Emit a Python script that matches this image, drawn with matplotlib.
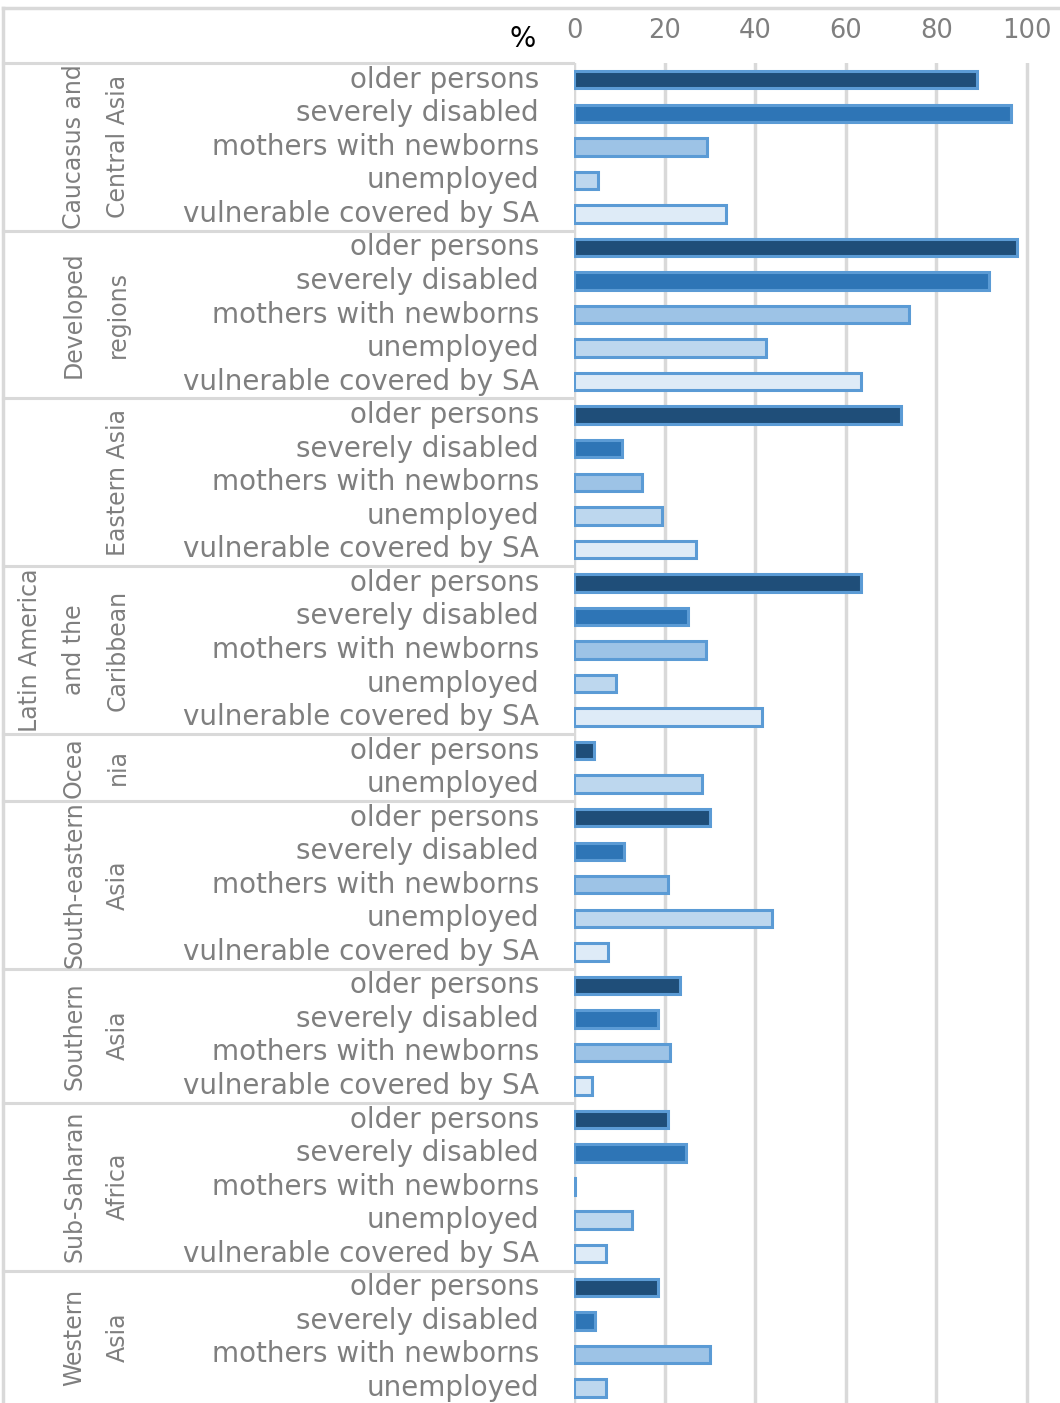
import matplotlib
matplotlib.use("Agg")
import matplotlib.pyplot as plt
import matplotlib.transforms as mtransforms

# region labels (rotated, in the left table column)
regions = ["Caucasus and\nCentral Asia", "Developed\nregions", "Eastern Asia",
           "Latin America\nand the\nCaribbean", "Ocea\nnia", "South-eastern\nAsia",
           "Southern\nAsia", "Sub-Saharan\nAfrica", "Western\nAsia"]

ALL5 = ["older persons", "severely disabled", "mothers with newborns",
        "unemployed", "vulnerable covered by SA"]
categories = [
    ALL5,
    ALL5,
    ALL5,
    ALL5,
    ["older persons", "unemployed"],
    ALL5,
    ["older persons", "severely disabled", "mothers with newborns", "vulnerable covered by SA"],
    ALL5,
    ["older persons", "severely disabled", "mothers with newborns", "unemployed"],
]
values = [
    [89.0, 96.5, 29.4, 5.3, 33.5],
    [97.8, 91.6, 74.0, 42.4, 63.4],
    [72.2, 10.6, 15.0, 19.4, 26.9],
    [63.4, 25.2, 29.1, 9.3, 41.5],
    [4.4, 28.3],
    [30.0, 11.0, 20.8, 43.7, 7.5],
    [23.4, 18.5, 21.2, 4.0],
    [20.8, 24.7, 0.3, 12.8, 7.1],
    [18.5, 4.6, 30.0, 7.1],
]
ticks = [0, 20, 40, 60, 80, 100]

cat_colors = {
    "older persons": "#1F4E79",
    "severely disabled": "#2E75B6",
    "mothers with newborns": "#9DC3E6",
    "unemployed": "#BDD7EE",
    "vulnerable covered by SA": "#DEEBF7",
}
EDGE = "#5B9BD5"
GRID = "#D9D9D9"
TXT = "#7f7f7f"

W, H = 1060, 1403
fig = plt.figure(figsize=(W / 100, H / 100), dpi=100)

ax_left = 574
ax = fig.add_axes([ax_left / W, 0, 1 - ax_left / W, (H - 63) / H])

# flatten rows
ypos, vals, cols, labels = [], [], [], []
bounds = [-0.5]
centers = []
row = 0
for cats, vv in zip(categories, values):
    start = row
    for c, v in zip(cats, vv):
        ypos.append(row)
        vals.append(v)
        cols.append(cat_colors[c])
        labels.append(c)
        row += 1
    bounds.append(row - 0.5)
    centers.append((start + row - 1) / 2)

ax.barh(ypos, vals, height=0.52, color=cols, edgecolor=EDGE, linewidth=2.2, zorder=3)

px_per_unit = 4.53
ax.set_xlim(0, (W - ax_left) / px_per_unit)
ax.set_ylim(39.45, -0.5)
ax.set_xticks(ticks)
ax.set_yticks([])
ax.xaxis.tick_top()
ax.tick_params(axis="x", length=0, pad=14, labelsize=18.5, labelcolor=TXT)
ax.grid(axis="x", color=GRID, linewidth=2.5, zorder=0)
ax.set_axisbelow(True)
for s in ax.spines.values():
    s.set_visible(False)

trans = mtransforms.blended_transform_factory(fig.transFigure, ax.transData)

# category labels
for y, lab in zip(ypos, labels):
    ax.text(539 / W, y, lab, transform=trans, ha="right", va="center",
            fontsize=20, color=TXT)

# region labels
for c, name in zip(centers, regions):
    ax.text(130 / W, c, name, transform=trans, rotation=90, ha="right", va="center",
            multialignment="center", fontsize=17, color=TXT, linespacing=2.05)

# table lines
for b in bounds:
    ax.plot([3 / W, 573 / W], [b, b], transform=trans, color=GRID, lw=2.2, clip_on=False)
fig.add_artist(plt.Line2D([3 / W, 3 / W], [0, 1 - 8 / H], transform=fig.transFigure,
                          color=GRID, lw=2.5))
fig.add_artist(plt.Line2D([3 / W, 1], [1 - 8 / H, 1 - 8 / H], transform=fig.transFigure,
                          color=GRID, lw=2.5))

fig.text(536 / W, 1 - 39 / H, "%", ha="right", va="center", fontsize=20, color="black")

fig.savefig("out.png", dpi=100)
